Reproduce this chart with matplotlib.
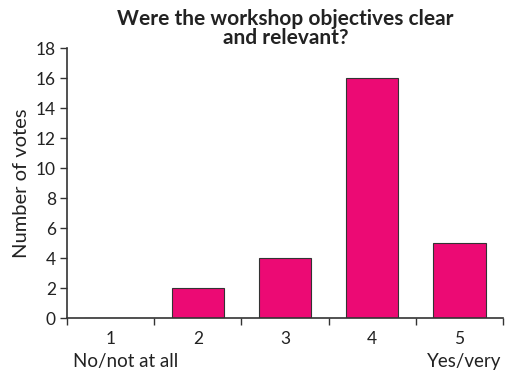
import numpy as np
import matplotlib.pyplot as plt

# Survey answers: score 1..5 and how many people picked it
scores = ['1', '2', '3', '4', '5']
votes = [0, 2, 4, 16, 5]
low_label = 'No/not at all'
high_label = 'Yes/very'

plt.rcParams['font.family'] = ['Lato', 'DejaVu Sans']

fig = plt.figure(figsize=(5.05, 3.7), dpi=100)
ax = fig.add_axes([0.1327, 0.1405, 0.8633, 0.7295])

x = np.arange(len(scores))
ax.bar(x, votes, width=0.6, color='#EC0A74', edgecolor='#333333', linewidth=0.8)

ax.set_xlim(-0.5, len(scores) - 0.5)
ax.set_ylim(0, 18)
ax.set_yticks(np.arange(0, 19, 2))
ax.set_xticks(x)
ax.set_xticklabels(scores)
ax.set_xticks(np.arange(-0.5, len(scores), 1), minor=True)
ax.tick_params(axis='x', which='major', length=0, pad=9, labelsize=12.5, colors='#222222')
ax.tick_params(axis='x', which='minor', length=5, width=1, direction='out', color='#333333')
ax.tick_params(axis='y', length=5, width=1, labelsize=12.5, colors='#222222', pad=3)
ax.tick_params(axis='y', color='#333333')

for side in ('top', 'right'):
    ax.spines[side].set_visible(False)
for side in ('left', 'bottom'):
    ax.spines[side].set_linewidth(1.2)
    ax.spines[side].set_color('#333333')

ax.set_ylabel('Number of votes', fontsize=14.5, color='#222222', labelpad=4)

# end-point descriptions under the first and last score
ax.text(0.013, -0.16, low_label, transform=ax.transAxes, ha='left', va='center',
        fontsize=13.5, color='#222222')
ax.text(0.995, -0.16, high_label, transform=ax.transAxes, ha='right', va='center',
        fontsize=13.5, color='#222222')

fig.text(0.565, 0.924, 'Were the workshop objectives clear\nand relevant?',
         ha='center', va='center', fontsize=15, fontweight='bold',
         linespacing=0.95, color='#222222')

fig.savefig('out.png', dpi=100)
